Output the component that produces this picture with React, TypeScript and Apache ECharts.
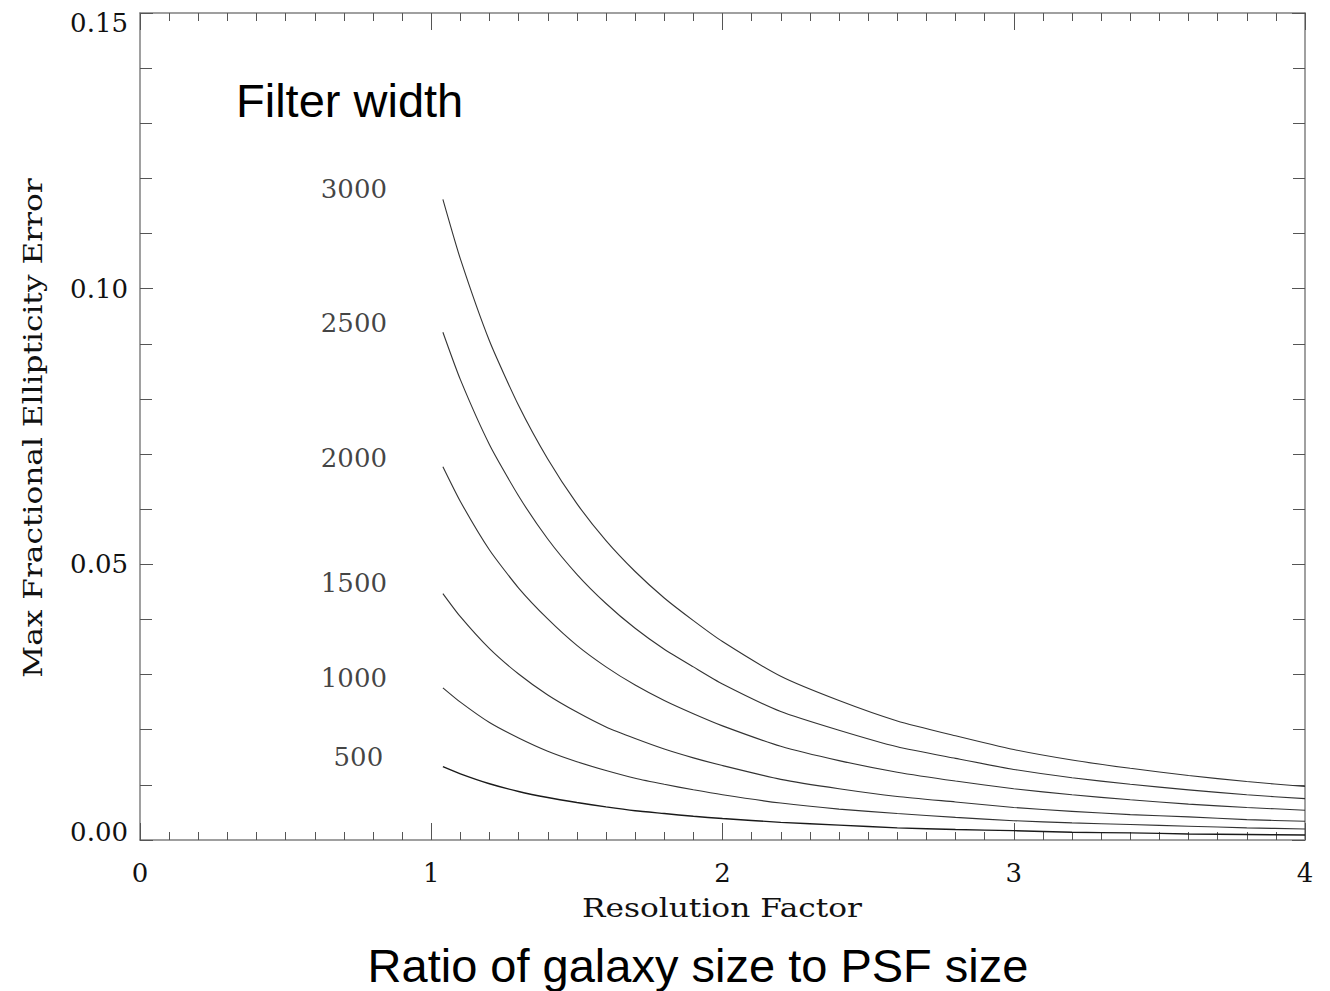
import React, { useEffect, useRef } from "react";
import * as echarts from "echarts";

// Resolution factor samples
const resolution = [1.04, 1.1, 1.2, 1.3, 1.4, 1.5, 1.6, 1.7, 1.8, 1.9, 2.0, 2.2, 2.4, 2.6, 2.8, 3.0, 3.2, 3.4, 3.6, 3.8, 4.0];

// Max fractional ellipticity error for each filter width
const err3000 = [0.1162, 0.1054, 0.0905, 0.0788, 0.0691, 0.0610, 0.0543, 0.0487, 0.0439, 0.0398, 0.0360, 0.0297, 0.0253, 0.0216, 0.0189, 0.0164, 0.0145, 0.0130, 0.0117, 0.0106, 0.0097];
const err2500 = [0.0921, 0.0835, 0.0717, 0.0624, 0.0546, 0.0482, 0.0429, 0.0384, 0.0346, 0.0314, 0.0283, 0.0233, 0.0199, 0.0169, 0.0148, 0.0128, 0.0113, 0.0101, 0.0091, 0.0082, 0.0075];
const err2000 = [0.0677, 0.0614, 0.0526, 0.0457, 0.0401, 0.0353, 0.0314, 0.0281, 0.0253, 0.0229, 0.0207, 0.0170, 0.0144, 0.0123, 0.0107, 0.0093, 0.0082, 0.0073, 0.0065, 0.0059, 0.0054];
const err1500 = [0.0447, 0.0405, 0.0347, 0.0301, 0.0263, 0.0232, 0.0205, 0.0184, 0.0165, 0.0149, 0.0135, 0.0110, 0.0093, 0.0079, 0.0069, 0.0059, 0.0052, 0.0046, 0.0042, 0.0037, 0.0034];
const err1000 = [0.0276, 0.0250, 0.0213, 0.0185, 0.0161, 0.0142, 0.0126, 0.0112, 0.0101, 0.0091, 0.0082, 0.0067, 0.0056, 0.0048, 0.0041, 0.0035, 0.0031, 0.0028, 0.0025, 0.0022, 0.0020];
const err500 = [0.0133, 0.0120, 0.0102, 0.0088, 0.0077, 0.0068, 0.0060, 0.0053, 0.0048, 0.0043, 0.0039, 0.0032, 0.0027, 0.0022, 0.0019, 0.0017, 0.0014, 0.0013, 0.0011, 0.0010, 0.0009];

const filterWidths = ["3000", "2500", "2000", "1500", "1000", "500"];
const seriesValues = [err3000, err2500, err2000, err1500, err1000, err500];
// label anchor (data coords) for filter width annotations
const labelX = [0.848, 0.848, 0.848, 0.848, 0.848, 0.835];
const labelY = [0.118, 0.0938, 0.0693, 0.0466, 0.0294, 0.0151];

const yTicks = [0, 0.05, 0.1, 0.15];
const xTicks = [0, 1, 2, 3, 4];

const SERIF = "DejaVu Serif";
const SANS = "Liberation Sans";
const INK = "#111";

export default function App() {
  const ref = useRef<HTMLDivElement>(null);
  useEffect(() => {
    if (!ref.current) return;
    const chart = echarts.init(ref.current, null, { renderer: "svg" });

    const axisCommon = (show: boolean) => ({
      type: "value" as const,
      axisLine: { show: true, onZero: false, lineStyle: { color: "#808080", width: 1.5 } },
      splitLine: { show: false },
      axisTick: { show: true, inside: true, lineStyle: { color: "#555", width: 1 } },
      minorTick: { show: true, lineStyle: { color: "#555", width: 1 } },
      axisLabel: { show },
    });

    const lineSeries = seriesValues.map((vals, i) => ({
      type: "line",
      name: filterWidths[i],
      xAxisIndex: 0,
      yAxisIndex: 0,
      showSymbol: false,
      symbol: "none",
      smooth: 0.2,
      lineStyle: { color: i === 5 ? "#1a1a1a" : "#333", width: i === 5 ? 1.4 : 1.1 },
      data: resolution.map((x, j) => [x, vals[j]]),
      silent: true,
      z: 3,
    }));

    const labelSeries = {
      type: "scatter",
      xAxisIndex: 0,
      yAxisIndex: 0,
      symbolSize: 0,
      silent: true,
      data: filterWidths.map((w, i) => ({ value: [labelX[i], labelY[i]], name: w })),
      label: {
        show: true,
        position: "left",
        distance: 0,
        formatter: (p: any) => p.name,
        fontFamily: SERIF,
        fontSize: 26,
        color: INK,
      },
    };

    chart.setOption({
      animation: false,
      backgroundColor: "#fff",
      grid: { left: 140, right: 25, top: 13, bottom: 151, containLabel: false },
      xAxis: [
        {
          ...axisCommon(true),
          position: "bottom",
          min: xTicks[0],
          max: xTicks[xTicks.length - 1],
          interval: 1,
          axisTick: { show: true, inside: true, length: 17, lineStyle: { color: "#555", width: 1 } },
          minorTick: { show: true, splitNumber: 10, length: 8, lineStyle: { color: "#555", width: 1 } },
          axisLabel: { show: true, margin: 20, fontFamily: SERIF, fontSize: 26, color: INK },
        },
        {
          ...axisCommon(false),
          position: "top",
          min: xTicks[0],
          max: xTicks[xTicks.length - 1],
          interval: 1,
          axisTick: { show: true, inside: true, length: 17, lineStyle: { color: "#555", width: 1 } },
          minorTick: { show: true, splitNumber: 10, length: 8, lineStyle: { color: "#555", width: 1 } },
        },
      ],
      yAxis: [
        {
          ...axisCommon(true),
          position: "left",
          min: yTicks[0],
          max: yTicks[yTicks.length - 1],
          interval: 0.05,
          axisTick: { show: true, inside: true, length: 13, lineStyle: { color: "#555", width: 1 } },
          minorTick: { show: true, splitNumber: 5, length: 12, lineStyle: { color: "#555", width: 1 } },
          axisLabel: {
            show: true,
            margin: 12,
            color: INK,
            fontFamily: SERIF,
            fontSize: 26,
            formatter: (v: number) => {
              const s = v.toFixed(2);
              if (Math.abs(v - yTicks[yTicks.length - 1]) < 1e-9) return `{top|${s}}`;
              if (Math.abs(v - yTicks[0]) < 1e-9) return `{bot|${s}}`;
              return `{mid|${s}}`;
            },
            rich: {
              top: { fontFamily: SERIF, fontSize: 26, color: INK, padding: [20, 0, 0, 0] },
              bot: { fontFamily: SERIF, fontSize: 26, color: INK, padding: [0, 0, 16, 0] },
              mid: { fontFamily: SERIF, fontSize: 26, color: INK },
            },
          },
        },
        {
          ...axisCommon(false),
          position: "right",
          min: yTicks[0],
          max: yTicks[yTicks.length - 1],
          interval: 0.05,
          axisTick: { show: true, inside: true, length: 13, lineStyle: { color: "#555", width: 1 } },
          minorTick: { show: true, splitNumber: 5, length: 12, lineStyle: { color: "#555", width: 1 } },
        },
      ],
      graphic: [
        {
          type: "text",
          x: 33,
          y: 428,
          rotation: Math.PI / 2,
          scaleX: 1.2,
          style: {
            text: "Max Fractional Ellipticity Error",
            fontFamily: SERIF,
            fontSize: 26,
            fill: INK,
            align: "center",
            verticalAlign: "middle",
          },
        },
        {
          type: "text",
          x: 722,
          y: 908,
          scaleX: 1.2,
          style: {
            text: "Resolution Factor",
            fontFamily: SERIF,
            fontSize: 26,
            fill: INK,
            align: "center",
            verticalAlign: "middle",
          },
        },
        {
          type: "text",
          x: 236,
          y: 100,
          style: {
            text: "Filter width",
            fontFamily: SANS,
            fontSize: 47,
            fill: "#000",
            align: "left",
            verticalAlign: "middle",
          },
        },
        {
          type: "text",
          x: 698,
          y: 965,
          style: {
            text: "Ratio of galaxy size to PSF size",
            fontFamily: SANS,
            fontSize: 47,
            fill: "#000",
            align: "center",
            verticalAlign: "middle",
          },
        },
      ],
      series: [...lineSeries, labelSeries],
    });

    return () => chart.dispose();
  }, []);

  return (
    <div
      ref={ref}
      style={{ position: "absolute", left: 0, top: 0, width: 1330, height: 991, background: "#fff" }}
    />
  );
}
